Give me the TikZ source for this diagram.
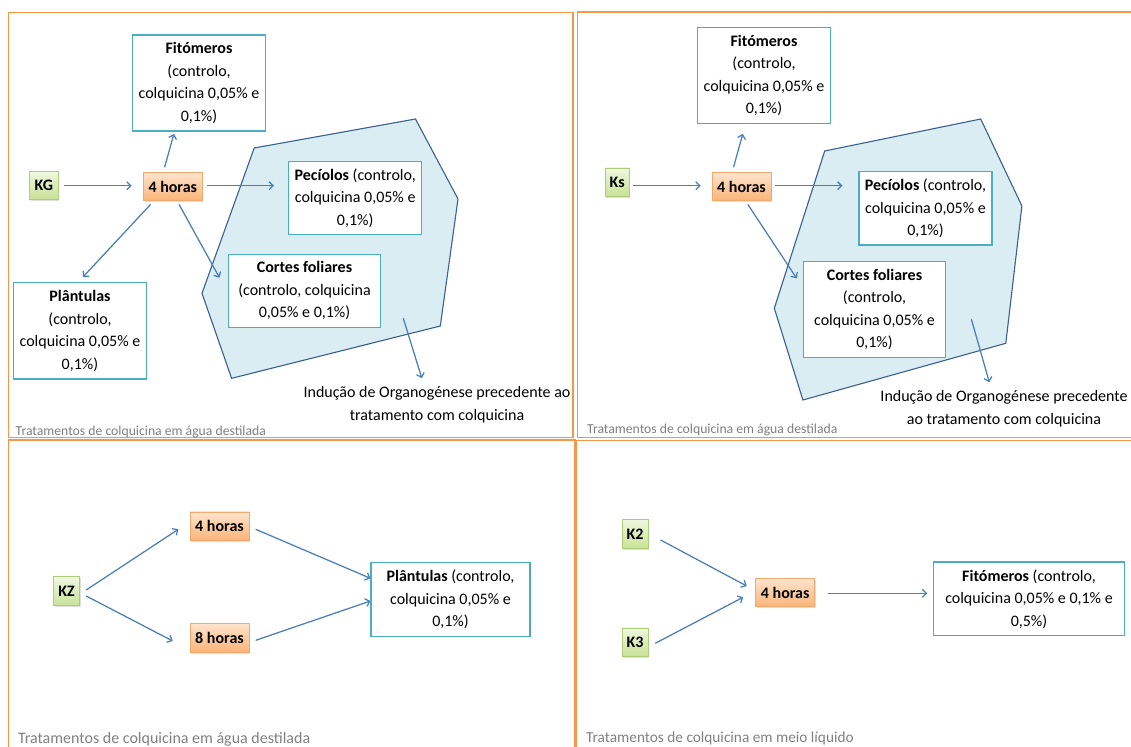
\documentclass[tikz,border=0pt]{standalone}
\usepackage{fontspec}
\setmainfont{Carlito}
\usetikzlibrary{arrows.meta,calc,shadows}

\definecolor{panelorange}{RGB}{247,150,70}
\definecolor{boxblue}{RGB}{75,172,198}
\definecolor{arrowblue}{RGB}{74,126,187}
\definecolor{zonefill}{RGB}{218,237,243}
\definecolor{zoneline}{RGB}{58,95,145}
\definecolor{greenlight}{RGB}{240,247,225}
\definecolor{greendark}{RGB}{200,226,150}
\definecolor{greenline}{RGB}{175,205,120}
\definecolor{orangelight}{RGB}{254,228,205}
\definecolor{orangedark}{RGB}{250,180,120}
\definecolor{orangeline}{RGB}{240,170,110}
\definecolor{footgray}{RGB}{128,128,128}

\tikzset{
  panel/.style={draw=panelorange, line width=1.4pt},
  txt/.style={font=\fontsize{16}{22.5}\selectfont, align=center, inner sep=0pt},
  bluebox/.style={txt, draw=boxblue, line width=1.1pt, fill=white},
  greenbox/.style={txt, font=\fontsize{16}{20}\selectfont\bfseries, draw=greenline, line width=0.8pt,
    top color=greenlight, bottom color=greendark, drop shadow={shadow xshift=1pt, shadow yshift=-1.5pt, opacity=0.25}},
  timebox/.style={txt, font=\fontsize{16}{20}\selectfont\bfseries, draw=orangeline, line width=0.8pt,
    top color=orangelight, bottom color=orangedark, drop shadow={shadow xshift=1pt, shadow yshift=-1.5pt, opacity=0.25}},
  zone/.style={draw=zoneline, line width=1.1pt, fill=zonefill},
  arr/.style={draw=arrowblue, line width=1.25pt, -{Straight Barb[length=4pt,width=8pt,line width=1.25pt]}},
  foot/.style={text=footgray, inner sep=0pt, anchor=base west},
}

\begin{document}
\begin{tikzpicture}[x=1pt, y=-1pt]
\useasboundingbox (0,0) rectangle (1131,746);
\begin{scope}
\clip (0,0) rectangle (1131,746);

% ---------- panel frames ----------
\draw[panel] (8.5,12.7) rectangle (573,437.5);
\draw[panel] (577.5,12.2) rectangle (1145,437.5);
\draw[panel] (8.5,440) rectangle (575,760);
\draw[panel] (576,440.5) rectangle (1145,760);

% =============== top-left: KG ===============
\draw[zone] (254.2,148) -- (415.5,119) -- (458,199) -- (440.3,326) -- (231.6,378.3) -- (202,293.3) -- cycle;

\node[bluebox, minimum width=133pt, minimum height=96pt] (fitA) at (199,83)
  {\textbf{Fitómeros}\\(controlo,\\colquicina 0,05\% e\\0,1\%)};
\node[greenbox, minimum width=28.4pt, minimum height=27.6pt] (KG) at (43.8,185.5) {KG};
\node[timebox, minimum width=58.5pt, minimum height=28.4pt] (h4A) at (172.8,186.5) {4 horas};
\node[bluebox, minimum width=133.2pt, minimum height=73pt] (pecA) at (355.2,197.8)
  {\textbf{Pecíolos} (controlo,\\colquicina 0,05\% e\\0,1\%)};
\node[bluebox, minimum width=133.2pt, minimum height=96.3pt] (planA) at (80,330.8)
  {\textbf{Plântulas}\\(controlo,\\colquicina 0,05\% e\\0,1\%)};
\node[bluebox, minimum width=151.7pt, minimum height=73pt] (corA) at (304.5,290.8)
  {\textbf{Cortes foliares}\\(controlo, colquicina\\0,05\% e 0,1\%)};
\node[txt] (indA) at (437,404.5)
  {Indução de Organogénese precedente ao\\tratamento com colquicina};
\coordinate (zoneA) at (403.3,318.3);

\draw[arr] ($(KG.east)+(6,0.2)$) -- ($(h4A.west)+(-11.5,-0.8)$);
\draw[arr] ($(h4A.north)+(-8.2,-4.6)$) -- ($(fitA.south)+(-25.1,2.3)$);
\draw[arr] ($(h4A.east)+(4.4,-0.8)$) -- ($(pecA.west)+(-14.1,-12.1)$);
\draw[arr] ($(h4A.south)+(-22.2,3.3)$) -- ($(planA.north)+(2.9,-5)$);
\draw[arr] ($(h4A.south)+(6.2,3.3)$) -- ($(corA.west)+(-8.6,-13.1)$);
\draw[arr] (zoneA) -- ($(indA.north)+(-15.2,-8)$);

\node[foot, font=\fontsize{13.7}{16}\selectfont] at (15.5,435) {Tratamentos de colquicina em água destilada};

% =============== top-right: Ks ===============
\draw[zone] (824.7,151) -- (980.7,119) -- (1021.9,206) -- (1005.8,343.3) -- (802.9,400) -- (774.3,308.3) -- cycle;

\node[bluebox, minimum width=133pt, minimum height=96.4pt] (fitB) at (764,75.5)
  {\textbf{Fitómeros}\\(controlo,\\colquicina 0,05\% e\\0,1\%)};
\node[greenbox, minimum width=24.4pt, minimum height=28pt] (Ks) at (617.2,182) {Ks};
\node[timebox, minimum width=59pt, minimum height=28.4pt] (h4B) at (741.5,186.5) {4 horas};
\node[bluebox, minimum width=133pt, minimum height=73.3pt] (pecB) at (925.5,208.3)
  {\textbf{Pecíolos} (controlo,\\colquicina 0,05\% e\\0,1\%)};
\node[bluebox, minimum width=142.4pt, minimum height=95.6pt] (corB) at (874.5,309.5)
  {\textbf{Cortes foliares}\\(controlo,\\colquicina 0,05\% e\\0,1\%)};
\node[txt] (indB) at (1004,408.6)
  {Indução de Organogénese precedente\\ao tratamento com colquicina};
\coordinate (zoneB) at (971.4,319.3);

\draw[arr] ($(Ks.east)+(3.6,3.7)$) -- ($(h4B.west)+(-11,-0.8)$);
\draw[arr] ($(h4B.north)+(-8,-4.6)$) -- ($(fitB.south)+(-21.2,9.6)$);
\draw[arr] ($(h4B.east)+(4,-0.8)$) -- ($(pecB.west)+(-16,-22.6)$);
\draw[arr] ($(h4B.south)+(6.3,3.3)$) -- ($(corB.west)+(-6.1,-31.2)$);
\draw[arr] (zoneB) -- ($(indB.north)+(-14.7,-8)$);

\node[foot, font=\fontsize{13.7}{16}\selectfont] at (587,433.5) {Tratamentos de colquicina em água destilada};

% =============== bottom-left: KZ ===============
\node[greenbox, minimum width=26pt, minimum height=29pt] (KZ) at (66.5,591.2) {KZ};
\node[timebox, minimum width=59pt, minimum height=28.7pt] (h4C) at (219.5,526.3) {4 horas};
\node[timebox, minimum width=59pt, minimum height=28.7pt] (h8C) at (219.5,637.7) {8 horas};
\node[bluebox, minimum width=159pt, minimum height=74pt] (planC) at (450.5,599.3)
  {\textbf{Plântulas} (controlo,\\colquicina 0,05\% e\\0,1\%)};

\draw[arr] ($(KZ.east)+(6.3,-1.2)$) -- ($(h4C.west)+(-11.3,3)$);
\draw[arr] ($(KZ.east)+(6.3,4.8)$) -- ($(h8C.west)+(-16.9,3.3)$);
\draw[arr] ($(h4C.east)+(6.3,3)$) -- ($(planC.west)+(0,-21)$);
\draw[arr] ($(h8C.east)+(6.3,2.6)$) -- ($(planC.west)+(0,1.7)$);

\node[foot, font=\fontsize{16}{18}\selectfont] at (17.8,743) {Tratamentos de colquicina em água destilada};

% =============== bottom-right: K2 / K3 ===============
\node[greenbox, minimum width=25.8pt, minimum height=29pt] (K2) at (635.1,533.8) {K2};
\node[greenbox, minimum width=25.8pt, minimum height=28.7pt] (K3) at (635.1,642.3) {K3};
\node[timebox, minimum width=59pt, minimum height=28.4pt] (h4D) at (785.2,592.5) {4 horas};
\node[bluebox, minimum width=191pt, minimum height=73.7pt] (fitD) at (1029,598.8)
  {\textbf{Fitómeros} (controlo,\\colquicina 0,05\% e 0,1\% e\\0,5\%)};

\draw[arr] ($(K2.east)+(12.2,6.2)$) -- ($(h4D.west)+(-8.6,-6.5)$);
\draw[arr] ($(K3.east)+(6.8,1)$) -- ($(h4D.west)+(-12.2,4.8)$);
\draw[arr] ($(h4D.east)+(12.9,0.8)$) -- ($(fitD.west)+(-5.7,-5.5)$);

\node[foot, font=\fontsize{15.3}{18}\selectfont] at (586,742.5) {Tratamentos de colquicina em meio líquido};
\end{scope}
\end{tikzpicture}
\end{document}
